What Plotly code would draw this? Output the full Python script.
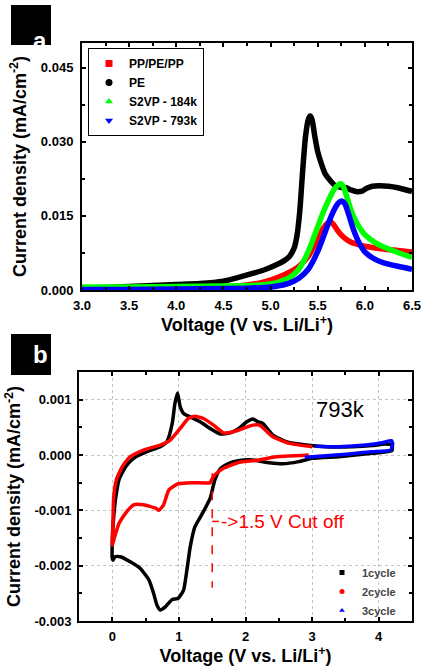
import plotly.graph_objects as go

# ---------------- Panel a data ----------------
A_SERIES = ["PP/PE/PP", "PE", "S2VP - 184k", "S2VP - 793k"]
A_COLORS = ["#ff0000", "#000000", "#00ff00", "#0000ff"]
A_SYMBOLS = ["square", "circle", "triangle-up", "triangle-down"]

ppx = [3.0, 3.5, 4.0, 4.5, 4.7, 4.9, 5.0, 5.1, 5.2, 5.3, 5.4, 5.48, 5.55, 5.6, 5.64, 5.67,
       5.72, 5.78, 5.85, 5.95, 6.05, 6.2, 6.35, 6.5]
ppy = [0.0002, 0.0003, 0.0004, 0.0006, 0.0009, 0.0015, 0.002, 0.0027, 0.0036, 0.0048, 0.0068,
       0.0095, 0.0122, 0.0135, 0.0138, 0.0132, 0.0118, 0.0106, 0.0097, 0.0091, 0.0087, 0.0083,
       0.008, 0.0077]

pex = [3.0, 3.25, 3.5, 3.75, 4.0, 4.25, 4.5, 4.65, 4.8, 4.95, 5.05, 5.15, 5.2, 5.25, 5.28, 5.31,
       5.34, 5.37, 5.40, 5.42, 5.44, 5.47, 5.50, 5.54, 5.58, 5.63, 5.68, 5.74, 5.80, 5.86, 5.92,
       5.97, 6.02, 6.08, 6.15, 6.25, 6.35, 6.45, 6.5]
pey = [0.0004, 0.0005, 0.0007, 0.0009, 0.0011, 0.0013, 0.0018, 0.0025, 0.0033, 0.0042, 0.005,
       0.006, 0.0068, 0.0085, 0.011, 0.016, 0.024, 0.031, 0.0345, 0.0352, 0.0345, 0.031, 0.028,
       0.0255, 0.0235, 0.0222, 0.0212, 0.0208, 0.0207, 0.0202, 0.0199, 0.02, 0.0206, 0.021,
       0.0211, 0.021, 0.0207, 0.0202, 0.0200]

g184x = [3.0, 3.5, 4.0, 4.5, 4.8, 5.0, 5.1, 5.2, 5.3, 5.4, 5.5, 5.57, 5.63, 5.68, 5.72, 5.745,
         5.77, 5.81, 5.86, 5.92, 6.0, 6.1, 6.2, 6.35, 6.5]
g184y = [0.0006, 0.0006, 0.0007, 0.0008, 0.0009, 0.0012, 0.0017, 0.0025, 0.0042, 0.0078, 0.0128,
         0.0163, 0.0188, 0.0205, 0.0213, 0.0215, 0.021, 0.0188, 0.0158, 0.0134, 0.0112, 0.0097,
         0.0087, 0.0076, 0.0066]

b793x = [3.0, 3.5, 4.0, 4.5, 4.8, 5.0, 5.1, 5.2, 5.3, 5.4, 5.5, 5.58, 5.64, 5.69, 5.73, 5.76,
         5.79, 5.83, 5.88, 5.94, 6.0, 6.1, 6.2, 6.35, 6.5]
b793y = [0.0001, 0.0001, 0.0002, 0.0003, 0.0004, 0.0006, 0.0009, 0.0014, 0.0024, 0.0042, 0.0078,
         0.0118, 0.0148, 0.0168, 0.0178, 0.018, 0.0174, 0.0152, 0.0122, 0.0095, 0.0077, 0.0063,
         0.0055, 0.0048, 0.0042]

A_X = [ppx, pex, g184x, b793x]
A_Y = [ppy, pey, g184y, b793y]
A_XTICKS = [3.0, 3.5, 4.0, 4.5, 5.0, 5.5, 6.0, 6.5]
A_YTICKS = [0.0, 0.015, 0.030, 0.045]

# ---------------- Panel b data ----------------
B_SERIES = ["1cycle", "2cycle", "3cycle"]
B_COLORS = ["#000000", "#ff0000", "#0000ff"]
B_SYMBOLS = ["square", "circle", "triangle-up"]

c1v = [4.2, 4.2, 3.9, 3.4, 3.0, 2.8, 2.56, 2.36, 2.11, 1.91, 1.75, 1.62, 1.54, 1.47, 1.37, 1.24,
       1.17, 1.12, 1.07, 0.99, 0.9, 0.8, 0.72, 0.67, 0.62, 0.55, 0.42, 0.27, 0.12, 0.04, 0.01,
       0.0, 0.01, 0.03, 0.05, 0.10, 0.2, 0.32, 0.52, 0.72, 0.82, 0.9, 0.94, 0.98, 1.02, 1.07,
       1.17, 1.32, 1.47, 1.62, 1.77, 1.91, 2.02, 2.11, 2.19, 2.26, 2.41, 2.61, 2.91, 3.2, 3.6,
       3.9, 4.1, 4.2]
c1j = [0.00018, 0.00008, 0.00003, -0.00003, -0.00006, -0.00012, -0.00016, -0.00014, -0.00009,
       -0.0001, -0.00015, -0.00025, -0.00045, -0.00078, -0.00102, -0.0013, -0.00166, -0.00208,
       -0.00244, -0.00259, -0.00261, -0.00274, -0.0028, -0.00271, -0.0025, -0.00226, -0.00205,
       -0.00193, -0.00184, -0.00184, -0.0019, -0.00187, -0.0013, -0.001, -0.00078, -0.00045,
       -0.00021, -0.00006, 0.00006, 0.00015, 0.00024, 0.00057, 0.00093, 0.00112, 0.00087,
       0.00075, 0.00069, 0.0006, 0.00048, 0.00038, 0.0004, 0.00049, 0.0006, 0.00065, 0.0006,
       0.00057, 0.00036, 0.00024, 0.00018, 0.00015, 0.00015, 0.00017, 0.0002, 0.00018]

c2v = [2.95, 2.41, 2.21, 1.91, 1.67, 1.54, 1.49, 1.47, 1.22, 0.99, 0.85, 0.77, 0.70, 0.65, 0.47,
       0.32, 0.2, 0.1, 0.03, 0.0, 0.01, 0.02, 0.06, 0.15, 0.27, 0.47, 0.72, 0.87, 1.02, 1.14,
       1.24, 1.37, 1.52, 1.67, 1.82, 2.01, 2.11, 2.21, 2.41, 2.66, 3.0]
c2j = [0.0, -0.00004, -0.00009, -0.00013, -0.00024, -0.00036, -0.00045, -0.0005, -0.0005,
       -0.00052, -0.00063, -0.0009, -0.001, -0.00096, -0.0009, -0.0009, -0.00105, -0.00124,
       -0.0015, -0.00163, -0.0012, -0.00078, -0.00045, -0.00021, -0.00003, 0.00009, 0.00018,
       0.00027, 0.00048, 0.00066, 0.0007, 0.00066, 0.00054, 0.0004, 0.00042, 0.0005, 0.00054,
       0.00054, 0.00033, 0.00021, 0.00015]

c3v = [3.04, 3.41, 3.81, 4.05, 4.19, 4.21, 4.18, 3.9, 3.56, 3.16, 2.89]
c3j = [0.00016, 0.00015, 0.00018, 0.00022, 0.00026, 0.0002, 0.00009, 0.00006, 0.00002, -0.00002,
       -0.00004]

B_X = [c1v, c2v, c3v]
B_Y = [c1j, c2j, c3j]
B_XTICKS = [0, 1, 2, 3, 4]
B_YTICKS = [-0.003, -0.002, -0.001, 0.0, 0.001]
B_YTICKTEXT = ["-0.003", "-0.002", "-0.001", "0.000", "0.001"]

CUTOFF_V = 1.5
CUTOFF_TOP = -0.00033
CUTOFF_BOTTOM = -0.0024
CUTOFF_LABEL_J = -0.0012
CUTOFF_TEXT = "->1.5 V Cut off"
SAMPLE_TEXT = "793k"

# ---------------- Figure ----------------
W, H = 422, 669
FONT = "Liberation Sans, Arial, sans-serif"
fig = go.Figure()

for name, col, xs, ys in zip(A_SERIES, A_COLORS, A_X, A_Y):
    fig.add_trace(go.Scatter(x=xs, y=ys, mode="lines",
                             line=dict(color=col, width=5.5, shape="spline", smoothing=0.6),
                             xaxis="x", yaxis="y", showlegend=False, hoverinfo="skip"))
for name, col, sym in zip(A_SERIES, A_COLORS, A_SYMBOLS):
    fig.add_trace(go.Scatter(x=[None], y=[None], mode="markers", name=name,
                             marker=dict(color=col, symbol=sym, size=7),
                             xaxis="x", yaxis="y", legend="legend"))

for name, col, xs, ys in zip(B_SERIES, B_COLORS, B_X, B_Y):
    fig.add_trace(go.Scatter(x=xs, y=ys, mode="lines",
                             line=dict(color=col, width=3.5, shape="spline", smoothing=0.5),
                             xaxis="x2", yaxis="y2", showlegend=False, hoverinfo="skip"))
for name, col, sym in zip(B_SERIES, B_COLORS, B_SYMBOLS):
    fig.add_trace(go.Scatter(x=[None], y=[None], mode="markers", name=name,
                             marker=dict(color=col, symbol=sym, size=5),
                             xaxis="x2", yaxis="y2", legend="legend2"))


def px_x(p):
    return p / W


def px_y(p):
    return 1 - p / H


tickfont = dict(family=FONT, size=13, color="black", weight="bold")
titlefont = dict(family=FONT, size=18, color="black", weight="bold")
common = dict(showline=True, linewidth=2, linecolor="black", mirror="ticks",
              ticks="inside", ticklen=4, tickwidth=1.5, tickcolor="black",
              tickfont=tickfont, zeroline=False, automargin=False)
outer = dict(ticks="outside", ticklen=5, tickwidth=1.5, tickcolor="black", showticklabels=False,
             showline=False, showgrid=False, zeroline=False, side="left")

A_XRANGE = [3.0, 6.5]
A_YRANGE = [0, 0.05]
B_XRANGE = [-0.5, 4.5]
B_YRANGE = [-0.003, 0.0015]

fig.update_layout(
    width=W, height=H, margin=dict(l=0, r=0, t=0, b=0, autoexpand=False),
    paper_bgcolor="white", plot_bgcolor="white",
    font=dict(family=FONT),
    xaxis=dict(domain=[px_x(82), px_x(412)], range=A_XRANGE, anchor="y",
               tickvals=A_XTICKS, tickformat=".1f", ticklabelstandoff=2,
               minor=dict(dtick=0.25, ticks="inside", ticklen=3, tickcolor="black"),
               showgrid=False,
               title=dict(text="Voltage (V vs. Li/Li<sup>+</sup>)", font=titlefont, standoff=6),
               **common),
    yaxis=dict(domain=[px_y(290), px_y(43)], range=A_YRANGE, anchor="x",
               tickvals=A_YTICKS, tickformat=".3f", ticklabelstandoff=4,
               minor=dict(dtick=0.0075, ticks="inside", ticklen=3, tickcolor="black"),
               showgrid=False,
               title=dict(text="Current density (mA/cm<sup>-2</sup>)", font=titlefont, standoff=10),
               **common),
    yaxis3=dict(overlaying="y", anchor="x", range=A_YRANGE, tickvals=A_YTICKS, **outer),
    xaxis2=dict(domain=[px_x(79), px_x(412)], range=B_XRANGE, anchor="y2",
                tickvals=B_XTICKS, ticklabelstandoff=2,
                minor=dict(dtick=0.5, ticks="inside", ticklen=3, tickcolor="black", showgrid=False),
                showgrid=True, gridcolor="#c4c4c4", griddash="dot", gridwidth=1,
                title=dict(text="Voltage (V vs. Li/Li<sup>+</sup>)", font=titlefont, standoff=6),
                **common),
    yaxis2=dict(domain=[px_y(621), px_y(372)], range=B_YRANGE, anchor="x2",
                tickvals=B_YTICKS, ticktext=B_YTICKTEXT, ticklabelstandoff=3,
                minor=dict(dtick=0.0005, ticks="inside", ticklen=3, tickcolor="black", showgrid=False),
                showgrid=True, gridcolor="#c4c4c4", griddash="dot", gridwidth=1,
                title=dict(text="Current density (mA/cm<sup>-2</sup>)", font=titlefont, standoff=9),
                **common),
    yaxis4=dict(overlaying="y2", anchor="x2", range=B_YRANGE, tickvals=B_YTICKS, **outer),
    legend=dict(x=px_x(88), y=px_y(48), xanchor="left", yanchor="top",
                bgcolor="white", bordercolor="black", borderwidth=1,
                font=dict(family=FONT, size=12, color="black", weight="bold"),
                itemwidth=30, tracegroupgap=0),
    legend2=dict(x=px_x(322), y=px_y(558), xanchor="left", yanchor="top",
                 bgcolor="rgba(0,0,0,0)", borderwidth=0,
                 font=dict(family=FONT, size=11, color="#444444", weight="bold"),
                 itemwidth=30, tracegroupgap=0),
)

# panel labels
for label, top, bottom in [("a", 5, 45), ("b", 334, 375)]:
    fig.add_shape(type="rect", xref="paper", yref="paper", x0=px_x(11), x1=px_x(51),
                  y0=px_y(bottom), y1=px_y(top), fillcolor="black", line=dict(width=0), layer="above")
    fig.add_annotation(text=label, xref="paper", yref="paper", x=px_x(31), y=px_y((top + bottom) / 2),
                       showarrow=False, font=dict(family=FONT, size=24, color="white", weight="bold"))

# cutoff marker
fig.add_shape(type="line", xref="x2", yref="y2", x0=CUTOFF_V, x1=CUTOFF_V, y0=CUTOFF_TOP, y1=CUTOFF_BOTTOM,
              line=dict(color="red", width=1.5, dash="dash"))
fig.add_shape(type="line", xref="x2", yref="y2", x0=CUTOFF_V, x1=CUTOFF_V + 0.1, y0=CUTOFF_LABEL_J,
              y1=CUTOFF_LABEL_J, line=dict(color="red", width=1.5, dash="dash"))
fig.add_annotation(text=CUTOFF_TEXT, xref="x2", yref="y2", x=CUTOFF_V + 0.1, y=CUTOFF_LABEL_J,
                   xanchor="left", yanchor="middle", showarrow=False,
                   font=dict(family=FONT, size=19, color="red"))
fig.add_annotation(text=SAMPLE_TEXT, xref="x2", yref="y2", x=3.03, y=0.00082,
                   xanchor="left", yanchor="middle", showarrow=False,
                   font=dict(family=FONT, size=22, color="black"))

fig.write_html("out.html", config={"displayModeBar": False},
               post_script="document.body.style.margin='0px';")
